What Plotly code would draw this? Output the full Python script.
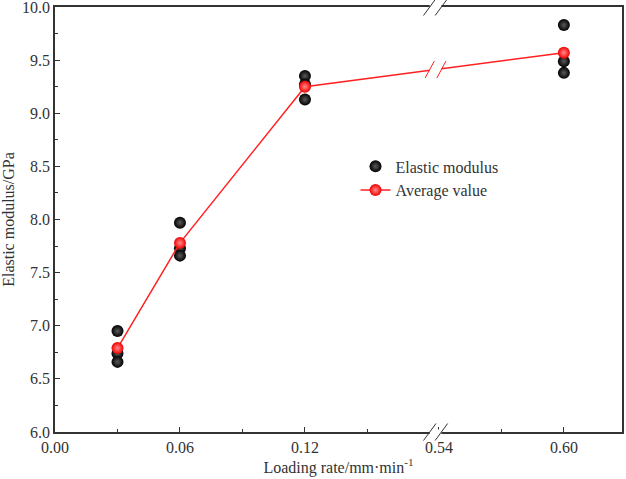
import plotly.graph_objects as go

# ---- data ----
rates = [0.03, 0.06, 0.12, 0.60]
modulus_samples = [
    [6.95, 6.74, 6.66],
    [7.97, 7.73, 7.66],
    [9.35, 9.27, 9.13],
    [9.83, 9.49, 9.38],
]
average_values = [6.79, 7.78, 9.25, 9.57]
tick_rates = [0.00, 0.06, 0.12, 0.54, 0.60]
tick_labels = ["0.00", "0.06", "0.12", "0.54", "0.60"]
minor_rates = [0.03, 0.09, 0.15, 0.57]
y_ticks = [6.0, 6.5, 7.0, 7.5, 8.0, 8.5, 9.0, 9.5, 10.0]
y_minor = [6.25, 6.75, 7.25, 7.75, 8.25, 8.75, 9.25, 9.75]

# broken axis transform
BREAK_LOW = 0.1815
RIGHT_START = 0.54
RIGHT_OFFSET = 0.1843


def tx(v):
    return v if v < 0.3 else v - RIGHT_START + RIGHT_OFFSET


xs_black, ys_black = [], []
for r, vals in zip(rates, modulus_samples):
    for v in vals:
        xs_black.append(tx(r))
        ys_black.append(v)

FONT = "Liberation Serif"
AX = "#333333"
fig = go.Figure()
fig.add_trace(go.Scatter(
    x=xs_black, y=ys_black, mode="markers", name="Elastic modulus",
    marker=dict(size=12, color="#000000",
                gradient=dict(type="radial", color="#5a5a5a")),
))
fig.add_trace(go.Scatter(
    x=[tx(r) for r in rates], y=average_values, mode="lines+markers",
    name="Average value",
    line=dict(color="#ff2020", width=1.5),
    marker=dict(size=12, color="#f00000",
                gradient=dict(type="radial", color="#ff8a8a")),
))

# break decorations on axes (paper y) and on line
shapes = []
bx = BREAK_LOW + 0.0012
dx = 0.0028
for yp in (0.0, 1.0):
    shapes.append(dict(type="rect", xref="x", yref="paper",
                       x0=bx - dx, x1=bx + dx, y0=yp - 0.006, y1=yp + 0.006,
                       fillcolor="white", line=dict(width=0), layer="above"))
    for off in (-dx, dx):
        shapes.append(dict(type="line", xref="x", yref="paper",
                           x0=bx + off - 0.003, x1=bx + off + 0.003,
                           y0=yp - 0.02, y1=yp + 0.02,
                           line=dict(color=AX, width=1), layer="above"))
# on the line between 0.12 and 0.60
x_a, x_b = tx(rates[2]), tx(rates[3])
y_a, y_b = average_values[2], average_values[3]
yl = y_a + (bx - x_a) / (x_b - x_a) * (y_b - y_a)
shapes.append(dict(type="rect", xref="x", yref="y",
                   x0=bx - dx, x1=bx + dx, y0=yl - 0.03, y1=yl + 0.03,
                   fillcolor="white", line=dict(width=0), layer="above"))
for off in (-dx, dx):
    shapes.append(dict(type="line", xref="x", yref="y",
                       x0=bx + off - 0.0022, x1=bx + off + 0.0022,
                       y0=yl - 0.08, y1=yl + 0.08,
                       line=dict(color="#ff2020", width=1), layer="above"))

fig.update_layout(
    width=626, height=479,
    margin=dict(l=55, r=4, t=7, b=47, autoexpand=False),
    paper_bgcolor="white", plot_bgcolor="white",
    font=dict(family=FONT, size=16, color=AX),
    showlegend=True,
    legend=dict(x=0.530, y=0.665, xanchor="left", yanchor="top",
                bgcolor="rgba(0,0,0,0)", font=dict(family=FONT, size=16, color=AX),
                itemwidth=30, tracegroupgap=0),
    shapes=shapes,
)
fig.update_xaxes(
    range=[0, 0.2722], showgrid=False, zeroline=False, automargin=False,
    showline=True, linecolor=AX, linewidth=1.5, mirror=True,
    tickmode="array", tickvals=[tx(v) for v in tick_rates], ticktext=tick_labels,
    ticks="inside", ticklen=5, tickcolor=AX, ticklabeloverflow="allow",
    minor=dict(tickmode="array", tickvals=[tx(v) for v in minor_rates],
               ticks="inside", ticklen=3, tickcolor=AX, showgrid=False),
    tickfont=dict(size=16),
    title=dict(text="Loading rate/mm·min<sup>-1</sup>", font=dict(size=16), standoff=2),
)
fig.update_yaxes(
    range=[6.0, 10.0], showgrid=False, zeroline=False, automargin=False,
    showline=True, linecolor=AX, linewidth=1.5, mirror=True,
    tickmode="array", tickvals=y_ticks, ticktext=[f"{v:.1f}" for v in y_ticks],
    ticks="inside", ticklen=5, tickcolor=AX, ticklabeloverflow="allow",
    minor=dict(tickmode="array", tickvals=y_minor,
               ticks="inside", ticklen=3, tickcolor=AX, showgrid=False),
    tickfont=dict(size=16),
    title=dict(text="Elastic modulus/GPa", font=dict(size=16), standoff=4),
)

fig.write_html("out.html", config={"displayModeBar": False},
               post_script="document.body.style.margin='0';document.body.style.overflow='hidden';")
